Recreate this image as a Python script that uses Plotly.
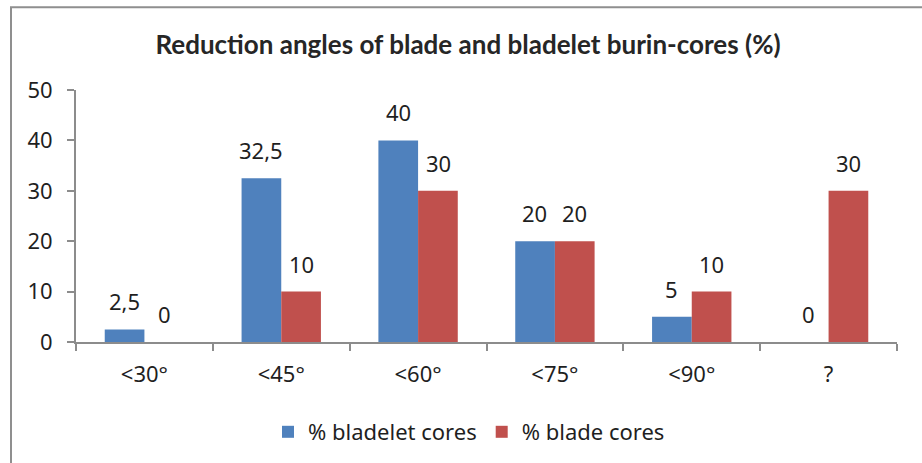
import plotly.graph_objects as go

categories = ["<30°", "<45°", "<60°", "<75°", "<90°", "?"]
bladelet_cores = [2.5, 32.5, 40, 20, 5, 0]
blade_cores = [0, 10, 30, 20, 10, 30]
bladelet_labels = ["2,5", "32,5", "40", "20", "5", "0"]
blade_labels = ["0", "10", "30", "20", "10", "30"]
y_ticks = [0, 10, 20, 30, 40, 50]

BLUE = "#4F81BD"
RED = "#C0504D"
AXIS = "#8C8C8C"
TEXT = "#1F1F1F"
FONT = "Noto Sans"
FS = 22

W, H = 922, 463
L, R, T, B = 76, 25, 90, 120
pw, ph = W - L - R, H - T - B

fig = go.Figure()
fig.add_trace(go.Bar(x=categories, y=bladelet_cores, name="% bladelet cores",
                     marker=dict(color=BLUE, line=dict(width=0))))
fig.add_trace(go.Bar(x=categories, y=blade_cores, name="% blade cores",
                     marker=dict(color=RED, line=dict(width=0))))

# value labels above each bar
half = 20
for cat, v, t in zip(categories, bladelet_cores, bladelet_labels):
    fig.add_annotation(x=cat, y=v, text=t, xshift=-half, yshift=11,
                       yanchor="bottom", showarrow=False,
                       font=dict(family=FONT, size=FS, color=TEXT))
for cat, v, t in zip(categories, blade_cores, blade_labels):
    fig.add_annotation(x=cat, y=v, text=t, xshift=half, yshift=11,
                       yanchor="bottom", showarrow=False,
                       font=dict(family=FONT, size=FS, color=TEXT))

# chart frame
def px_x(p):
    return (p - L) / pw

def px_y(p):
    return (H - B - p) / ph

fig.add_shape(type="rect", xref="paper", yref="paper",
              x0=px_x(11), x1=px_x(960), y0=px_y(7), y1=px_y(500),
              line=dict(color="#8F8F8F", width=2), fillcolor="rgba(0,0,0,0)")

fig.update_layout(
    width=W, height=H,
    margin=dict(l=L, r=R, t=T, b=B),
    paper_bgcolor="white", plot_bgcolor="white",
    barmode="group", bargap=0.42, bargroupgap=0,
    title=dict(text="<b>Reduction angles of blade and bladelet burin-cores (%)</b>",
               x=468 / W, xanchor="center", y=1 - 45 / H, yanchor="middle",
               xref="container", yref="container",
               font=dict(family="Lato", size=26, color="#262626")),
    font=dict(family=FONT, size=FS, color=TEXT),
    legend=dict(orientation="h", x=px_x(469), xanchor="center",
                y=px_y(432), yanchor="middle",
                font=dict(family=FONT, size=FS, color=TEXT),
                itemsizing="constant", traceorder="normal"),
    showlegend=True,
)
fig.update_xaxes(showline=True, linecolor=AXIS, linewidth=2,
                 ticks="outside", tickson="boundaries", ticklen=7,
                 tickcolor=AXIS, tickwidth=2, ticklabelstandoff=12,
                 showgrid=False, zeroline=False,
                 tickfont=dict(family=FONT, size=FS, color=TEXT))
fig.update_yaxes(range=[0, 50], tickvals=y_ticks, showline=True,
                 linecolor=AXIS, linewidth=2, ticks="outside", ticklen=7,
                 tickcolor=AXIS, tickwidth=2, ticklabelstandoff=10,
                 showgrid=False, zeroline=False,
                 tickfont=dict(family=FONT, size=FS, color=TEXT))

fig.write_html("out.html")
